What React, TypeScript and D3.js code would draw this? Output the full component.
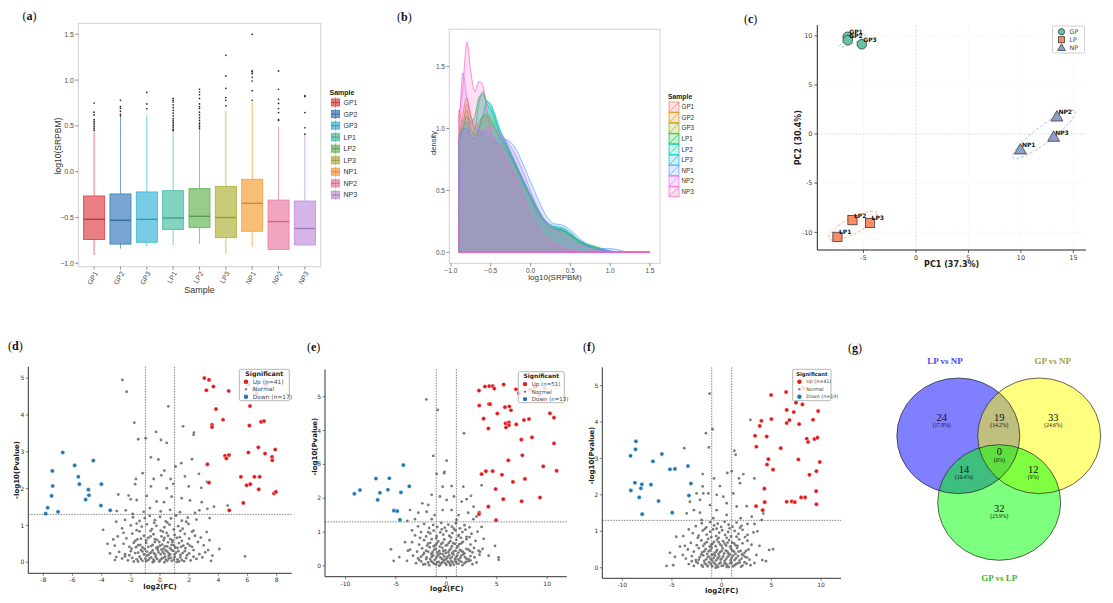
import React from 'react';
import * as d3 from 'd3';

const W = 1113;
const H = 603;
const SANS = '"Liberation Sans", Arial, sans-serif';
const DEJAVU = '"DejaVu Sans", sans-serif';
const SERIF = '"Liberation Serif", "Times New Roman", serif';

type Pt = [number, number];

// ---------- (a) boxplot of log10(SRPBM) ----------
const samples = ['GP1', 'GP2', 'GP3', 'LP1', 'LP2', 'LP3', 'NP1', 'NP2', 'NP3'];
const boxColors = ['#e0474f', '#3f7fbd', '#3fb8d8', '#4fc0a8', '#6ab85a', '#b3b540', '#f5a33f', '#ec7fa6', '#c394dd'];
const boxLow = [-0.91, -0.84, -0.82, -0.8, -0.785, -0.9, -0.82, -0.85, -0.8];
const boxQ1 = [-0.74, -0.79, -0.77, -0.63, -0.61, -0.72, -0.65, -0.85, -0.8];
const boxMed = [-0.52, -0.53, -0.52, -0.505, -0.487, -0.5, -0.345, -0.545, -0.62];
const boxQ3 = [-0.265, -0.243, -0.221, -0.207, -0.185, -0.16, -0.083, -0.31, -0.32];
const boxHigh = [0.43, 0.6, 0.61, 0.44, 0.455, 0.663, 0.765, 0.49, 0.4];
const boxOutliers = [
  [0.45, 0.47, 0.49, 0.51, 0.53, 0.55, 0.57, 0.62, 0.65, 0.75],
  [0.61, 0.63, 0.66, 0.69, 0.71, 0.78],
  [0.69, 0.74, 0.867],
  [0.45, 0.46, 0.48, 0.5, 0.52, 0.54, 0.56, 0.58, 0.61, 0.64, 0.67, 0.7, 0.73, 0.76, 0.78, 0.8],
  [0.47, 0.49, 0.51, 0.53, 0.56, 0.59, 0.62, 0.65, 0.69, 0.71, 0.74, 0.8, 0.84, 0.87, 0.9],
  [0.72, 0.78, 0.81, 0.91, 1.045, 1.27],
  [0.78, 0.885, 0.99, 1.03, 1.07, 1.09, 1.1, 1.5],
  [0.56, 0.57, 0.645, 0.69, 0.745, 0.79, 0.9, 1.1],
  [0.41, 0.48, 0.645, 0.82, 0.83],
];
const boxYTicks = [-1, -0.5, 0, 0.5, 1, 1.5];

// ---------- (b) density curves ----------
const densityColors = ['#F8766D', '#D39200', '#93AA00', '#00BA38', '#00C19F', '#00B9E3', '#619CFF', '#DB72FB', '#FF61C3'];
const densityX = [-0.9, -0.85, -0.8, -0.75, -0.7, -0.65, -0.6, -0.55, -0.5, -0.45, -0.4, -0.3, -0.2, -0.1, 0, 0.1, 0.2, 0.3, 0.4, 0.5, 0.6, 0.7, 0.8, 0.9, 1.0, 1.1, 1.2, 1.3, 1.5];
const densityGP1 = [1.15, 1.05, 1.2, 1.1, 1.0, 0.98, 0.95, 0.93, 0.92, 0.9, 0.88, 0.82, 0.7, 0.56, 0.43, 0.31, 0.23, 0.18, 0.17, 0.13, 0.08, 0.05, 0.03, 0.015, 0.005, 0, 0, 0, 0];
const densityGP2 = [0.9, 1.12, 1.25, 1.1, 1.0, 1.05, 1.1, 1.1, 1.05, 1.0, 0.94, 0.84, 0.71, 0.57, 0.44, 0.32, 0.23, 0.19, 0.18, 0.14, 0.09, 0.05, 0.03, 0.015, 0.005, 0, 0, 0, 0];
const densityGP3 = [0.95, 1.05, 1.15, 1.0, 0.95, 1.0, 1.1, 1.12, 1.08, 1.02, 0.95, 0.85, 0.72, 0.58, 0.45, 0.32, 0.23, 0.19, 0.18, 0.14, 0.09, 0.06, 0.04, 0.02, 0.005, 0, 0, 0, 0];
const densityLP1 = [0.9, 1.0, 1.1, 1.05, 1.1, 1.25, 1.28, 1.2, 1.15, 1.07, 0.98, 0.86, 0.72, 0.58, 0.45, 0.33, 0.24, 0.2, 0.18, 0.14, 0.1, 0.07, 0.05, 0.03, 0.01, 0, 0, 0, 0];
const densityLP2 = [0.9, 1.0, 1.05, 0.95, 1.0, 1.2, 1.3, 1.22, 1.18, 1.1, 1.0, 0.87, 0.73, 0.59, 0.46, 0.33, 0.24, 0.2, 0.19, 0.15, 0.1, 0.06, 0.04, 0.02, 0.01, 0, 0, 0, 0];
const densityLP3 = [0.9, 1.0, 1.0, 0.93, 0.92, 1.0, 1.1, 1.22, 1.2, 1.12, 1.02, 0.88, 0.74, 0.6, 0.47, 0.34, 0.25, 0.21, 0.2, 0.16, 0.1, 0.06, 0.04, 0.02, 0.01, 0, 0, 0, 0];
const densityNP1 = [0.2, 0.95, 0.97, 0.93, 0.92, 0.95, 0.97, 0.97, 0.95, 0.93, 0.92, 0.91, 0.85, 0.72, 0.57, 0.42, 0.29, 0.23, 0.22, 0.18, 0.12, 0.07, 0.04, 0.03, 0.03, 0.02, 0.005, 0, 0];
const densityNP2 = [0.9, 1.45, 1.25, 1.1, 1.05, 1.0, 0.98, 1.0, 1.02, 1.0, 0.97, 0.9, 0.8, 0.66, 0.5, 0.35, 0.24, 0.18, 0.15, 0.1, 0.06, 0.04, 0.02, 0.01, 0.01, 0.005, 0, 0, 0];
const densityNP3 = [1.1, 1.35, 1.7, 1.45, 1.3, 1.38, 1.35, 1.15, 0.98, 0.9, 0.86, 0.74, 0.62, 0.46, 0.3, 0.19, 0.11, 0.07, 0.04, 0.02, 0.01, 0, 0, 0, 0, 0, 0, 0, 0];
const densitySeries = [densityGP1, densityGP2, densityGP3, densityLP1, densityLP2, densityLP3, densityNP1, densityNP2, densityNP3];
const densityXTicks = [-1, -0.5, 0, 0.5, 1, 1.5];
const densityYTicks = [0, 0.5, 1, 1.5];

// ---------- (c) PCA ----------
const pcaGroups = ['GP', 'LP', 'NP'];
const pcaColors = ['#66c2a5', '#fc8d62', '#8da0cb'];
const pcaNames = ['GP1', 'GP2', 'GP3', 'LP1', 'LP2', 'LP3', 'NP1', 'NP2', 'NP3'];
const pcaPC1 = [-6.5, -6.5, -5.16, -7.48, -6.05, -4.37, 9.95, 13.43, 13.12];
const pcaPC2 = [9.9, 9.55, 9.14, -10.46, -8.76, -9.04, -1.59, 1.76, -0.3];
// group ellipses: centre (pc units), semi axes (pc1 units), tilt in degrees
const ellipseCx = [-6.05, -6.0, 12.17];
const ellipseCy = [9.55, -9.34, -0.05];
const ellipseRx = [1.36, 2.58, 3.7];
const ellipseRy = [0.3, 0.75, 0.8];
const ellipseAngle = [26, 28, 37];

// ---------- (d)(e)(f) volcano plots ----------
const upCounts = [41, 51, 41];
const downCounts = [17, 13, 19];

const upD: Pt[] = [[3.04, 5.0], [3.36, 4.95], [3.18, 4.67], [3.66, 4.77], [4.71, 4.65], [3.84, 4.16], [3.57, 3.73], [3.57, 3.67], [4.32, 3.87], [6.17, 4.24], [6.13, 3.71], [6.93, 3.81], [7.13, 3.83], [6.06, 2.98], [6.74, 3.12], [7.2, 2.95], [7.9, 3.06], [7.68, 2.86], [7.7, 2.77], [4.46, 2.89], [4.55, 2.82], [4.73, 2.91], [3.25, 2.66], [5.55, 2.32], [6.47, 2.32], [6.83, 2.32], [3.36, 2.16], [5.94, 2.09], [6.19, 2.12], [6.77, 1.98], [7.82, 1.87], [7.95, 1.91], [5.71, 1.61], [4.75, 1.41], [6.06, 4.82], [6.4, 4.68], [7.3, 4.82], [6.63, 4.59]];
const downD: Pt[] = [[-6.67, 2.98], [-5.85, 2.63], [-4.57, 2.76], [-7.38, 2.48], [-5.6, 2.32], [-7.36, 2.07], [-5.53, 2.12], [-4.02, 2.12], [-7.43, 1.8], [-4.91, 1.97], [-4.87, 1.82], [-5.1, 1.7], [-4.05, 1.54], [-7.7, 1.48], [-3.41, 1.41], [-6.99, 1.37], [-7.84, 1.32]];
const normalD: Pt[] = [
  [-2.58, 4.95], [-2.29, 4.63], [0.57, 4.23], [-1.76, 3.79], [1.58, 3.69], [2.33, 3.52], [2.3, 3.46], [-0.27, 3.54], [0.07, 3.32], [-1.49, 3.34], [-0.98, 3.37], [0.46, 3.24], [-0.62, 2.85], [-0.11, 2.79], [2.19, 2.8], [0.3, 2.49], [1.07, 2.6], [1.46, 2.69], [2.67, 2.4], [-1.19, 2.42], [-1.65, 2.26], [-1.71, 2.12], [-0.43, 2.26], [0.09, 2.36], [0.73, 2.26], [1.71, 2.33], [1.97, 2.06], [2.83, 2.02], [3.22, 2.18], [-0.62, 2.06], [0.46, 2.01], [0.91, 2.13], [-2.86, 1.84], [-2.15, 1.81], [-2.01, 1.71], [-1.6, 1.69], [-0.91, 1.8], [-0.23, 1.65], [0.27, 1.63], [0.8, 1.78], [1.49, 1.74], [2.06, 1.68], [2.86, 1.63], [3.7, 1.51], [4.64, 1.54], [3.25, 1.45], [-2.97, 1.39], [-2.35, 1.41], [-1.87, 1.31], [-1.12, 1.37], [-0.69, 1.47], [0.05, 1.38], [0.69, 1.42], [1.37, 1.36], [2.4, 1.34], [2.7, 1.41],
  [-2.6, 0.1], [-2.2, 0.05], [-1.9, 0.12], [-1.6, 0.08], [-1.4, 0.15], [-1.2, 0.04], [-1.0, 0.1], [-0.8, 0.06], [-0.6, 0.13], [-0.4, 0.03], [-0.2, 0.09], [0.0, 0.05], [0.2, 0.12], [0.4, 0.07], [0.6, 0.1], [0.8, 0.04], [1.0, 0.14], [1.2, 0.08], [1.5, 0.06], [1.8, 0.11], [2.1, 0.05], [2.5, 0.09], [2.9, 0.13], [-3.0, 0.14],
  [-2.8, 0.28], [-2.4, 0.22], [-2.0, 0.3], [-1.7, 0.25], [-1.3, 0.33], [-1.1, 0.21], [-0.9, 0.29], [-0.7, 0.24], [-0.5, 0.32], [-0.3, 0.2], [-0.1, 0.27], [0.1, 0.34], [0.3, 0.23], [0.5, 0.29], [0.7, 0.21], [0.9, 0.31], [1.1, 0.26], [1.4, 0.2], [1.7, 0.3], [2.0, 0.24], [2.3, 0.33], [2.7, 0.22], [3.1, 0.27],
  [-3.1, 0.45], [-2.5, 0.5], [-2.1, 0.42], [-1.8, 0.53], [-1.5, 0.46], [-1.2, 0.4], [-0.95, 0.52], [-0.6, 0.44], [-0.35, 0.55], [-0.15, 0.41], [0.15, 0.48], [0.35, 0.43], [0.55, 0.54], [0.8, 0.47], [1.05, 0.4], [1.3, 0.52], [1.6, 0.45], [1.9, 0.5], [2.2, 0.42], [2.6, 0.55], [3.0, 0.46],
  [-2.9, 0.7], [-2.3, 0.65], [-1.9, 0.78], [-1.55, 0.62], [-1.1, 0.72], [-0.8, 0.66], [-0.45, 0.76], [-0.2, 0.61], [0.1, 0.7], [0.45, 0.8], [0.7, 0.63], [1.0, 0.74], [1.35, 0.68], [1.7, 0.77], [2.0, 0.64], [2.4, 0.72], [2.8, 0.67],
  [-3.9, 0.88], [-2.6, 0.92], [-2.0, 1.0], [-1.6, 0.87], [-1.25, 0.97], [-0.9, 1.03], [-0.55, 0.9], [-0.25, 0.99], [0.05, 0.86], [0.3, 0.95], [0.65, 1.02], [0.95, 0.89], [1.25, 0.98], [1.55, 0.91], [1.95, 1.04], [2.3, 0.86], [3.2, 0.82],
  [-2.4, 1.15], [-1.85, 1.22], [-1.4, 1.12], [-1.05, 1.2], [-0.7, 1.26], [-0.35, 1.14], [0.0, 1.23], [0.4, 1.11], [0.75, 1.19], [1.1, 1.27], [1.5, 1.13], [1.9, 1.21], [2.5, 1.16],
  [-3.2, 0.62], [-3.43, 0.24], [-3.09, 0.06], [5.83, 0.16], [4.07, 0.36], [3.5, 0.04], [3.3, 0.33], [3.6, 0.18],
  [-0.5, 0.0], [0.3, 0.0], [-1.5, 0.02], [1.3, 0.02], [-0.9, 0.18], [0.6, 0.17], [-0.2, 0.38], [0.25, 0.6], [-0.65, 0.85], [0.85, 0.55],
  [-1.8, 0.02], [-1.3, 0.09], [-0.95, 0.03], [-0.7, 0.11], [-0.45, 0.07], [-0.3, 0.14], [-0.05, 0.02], [0.1, 0.09], [0.35, 0.15], [0.5, 0.04], [0.75, 0.12], [0.95, 0.07], [1.15, 0.01], [1.4, 0.13], [1.65, 0.03], [-2.4, 0.16], [2.3, 0.15],
  [-2.1, 0.19], [-1.5, 0.26], [-1.2, 0.29], [-0.8, 0.2], [-0.6, 0.27], [-0.4, 0.24], [-0.15, 0.33], [0.05, 0.22], [0.2, 0.28], [0.4, 0.32], [0.6, 0.24], [0.8, 0.33], [1.0, 0.21], [1.25, 0.3], [1.55, 0.25], [1.85, 0.19],
  [-1.95, 0.37], [-1.65, 0.41], [-1.35, 0.47], [-1.05, 0.36], [-0.8, 0.42], [-0.5, 0.47], [-0.25, 0.39], [0.0, 0.45], [0.25, 0.37], [0.5, 0.43], [0.7, 0.38], [0.95, 0.46], [1.2, 0.39], [1.45, 0.42], [1.75, 0.38], [2.05, 0.45],
  [-1.7, 0.58], [-1.3, 0.64], [-0.95, 0.59], [-0.65, 0.7], [-0.35, 0.63], [-0.05, 0.55], [0.3, 0.66], [0.55, 0.72], [0.85, 0.6], [1.15, 0.66], [1.5, 0.58], [-2.5, 0.8], [2.2, 0.83], [-1.4, 0.84], [0.2, 0.83], [1.4, 0.85], [-0.4, 1.07], [0.5, 1.08], [1.8, 1.1], [-1.6, 1.05], [-3.0, 1.1], [3.4, 1.2], [-3.6, 0.5], [3.4, 0.6],
];

const upE: Pt[] = [[3.24, 5.18], [3.83, 5.3], [4.26, 5.31], [4.6, 5.31], [4.76, 5.24], [5.69, 5.36], [6.91, 5.22], [7.21, 5.1], [8.79, 5.28], [3.27, 4.74], [4.23, 4.78], [4.33, 4.78], [5.82, 4.69], [6.25, 4.71], [6.41, 4.6], [5.06, 4.5], [3.7, 4.35], [5.88, 4.21], [6.21, 4.24], [6.21, 4.16], [5.92, 4.09], [4.17, 4.06], [6.94, 4.18], [7.7, 4.31], [8.2, 4.34], [10.28, 4.51], [10.68, 4.38], [7.44, 3.73], [8.5, 3.8], [10.68, 3.62], [7.54, 3.27], [6.15, 3.12], [9.62, 2.94], [3.5, 2.71], [3.93, 2.8], [4.6, 2.8], [5.52, 2.69], [10.94, 2.81], [6.61, 2.48], [7.8, 2.57], [4.89, 2.27], [9.29, 2.02], [5.65, 1.97], [7.47, 1.91], [4.17, 1.75], [3.27, 1.57], [3.24, 1.53], [4.93, 1.35], [8.3, 5.2], [9.29, 5.05], [9.79, 5.25]];
const downE: Pt[] = [[-4.26, 2.98], [-6.98, 2.58], [-5.65, 2.59], [-8.56, 2.24], [-9.12, 2.13], [-6.58, 2.16], [-5.79, 2.25], [-4.5, 2.17], [-3.67, 2.35], [-6.81, 1.95], [-5.19, 1.63], [-4.86, 1.62], [-4.6, 1.36]];
const normalE: Pt[] = [
  [-1.98, 4.92], [-0.86, 4.61], [1.75, 3.92], [-1.29, 3.25], [0.03, 3.11], [-0.96, 2.72], [-0.23, 2.74], [-0.17, 2.78], [3.5, 2.38], [0.53, 2.36], [-0.36, 2.34], [1.69, 2.34], [2.45, 2.07], [-1.45, 2.1], [-0.63, 2.05], [1.52, 1.9], [2.02, 1.97], [-2.38, 1.85], [-1.79, 1.8], [0.03, 1.95], [0.76, 2.05], [2.71, 1.75], [-3.6, 1.65], [-2.78, 1.57], [-1.95, 1.6], [-1.16, 1.5], [-0.36, 1.65], [0.53, 1.65], [1.22, 1.5], [2.18, 1.57], [3.0, 1.46], [-3.87, 1.33], [-3.11, 1.38], [-1.45, 1.38], [1.02, 1.36], [2.68, 1.38],
  [-3.0, 0.08], [-2.5, 0.13], [-2.1, 0.05], [-1.8, 0.1], [-1.5, 0.14], [-1.2, 0.06], [-0.9, 0.11], [-0.6, 0.04], [-0.35, 0.12], [-0.1, 0.07], [0.15, 0.13], [0.4, 0.05], [0.65, 0.1], [0.9, 0.15], [1.2, 0.06], [1.5, 0.12], [1.8, 0.08], [2.2, 0.14], [2.6, 0.05], [3.0, 0.1],
  [-3.3, 0.3], [-2.8, 0.22], [-2.3, 0.33], [-1.95, 0.25], [-1.6, 0.2], [-1.3, 0.31], [-1.0, 0.24], [-0.75, 0.34], [-0.45, 0.21], [-0.2, 0.28], [0.05, 0.23], [0.3, 0.32], [0.55, 0.26], [0.85, 0.2], [1.1, 0.3], [1.4, 0.24], [1.7, 0.34], [2.0, 0.21], [2.4, 0.29], [2.8, 0.25], [3.3, 0.33],
  [-3.6, 0.48], [-2.9, 0.42], [-2.4, 0.52], [-2.0, 0.45], [-1.65, 0.55], [-1.35, 0.41], [-1.05, 0.5], [-0.7, 0.44], [-0.4, 0.53], [-0.1, 0.46], [0.2, 0.4], [0.45, 0.51], [0.75, 0.43], [1.05, 0.54], [1.35, 0.47], [1.65, 0.41], [2.0, 0.5], [2.35, 0.44], [2.75, 0.53], [3.2, 0.45],
  [-3.4, 0.7], [-2.7, 0.63], [-2.2, 0.76], [-1.8, 0.66], [-1.45, 0.79], [-1.1, 0.61], [-0.8, 0.72], [-0.5, 0.65], [-0.2, 0.78], [0.1, 0.62], [0.4, 0.73], [0.7, 0.67], [1.0, 0.77], [1.3, 0.64], [1.65, 0.71], [2.0, 0.79], [2.4, 0.63], [2.9, 0.74],
  [-3.1, 0.9], [-2.5, 1.0], [-2.0, 0.87], [-1.6, 0.96], [-1.25, 1.04], [-0.95, 0.88], [-0.6, 0.99], [-0.3, 0.92], [0.0, 1.03], [0.3, 0.89], [0.6, 0.97], [0.9, 1.05], [1.25, 0.91], [1.6, 1.0], [2.0, 0.86], [2.5, 0.95], [3.1, 1.01],
  [-2.8, 1.17], [-2.2, 1.24], [-1.7, 1.12], [-1.3, 1.21], [-0.9, 1.15], [-0.5, 1.27], [-0.15, 1.13], [0.2, 1.22], [0.55, 1.16], [0.95, 1.26], [1.35, 1.11], [1.8, 1.2], [2.3, 1.14],
  [-5.49, 0.49], [-5.22, 0.15], [-4.66, 0.26], [4.83, 0.59], [5.19, 0.25], [5.19, 0.18], [3.34, 0.42], [-4.1, 0.7], [-3.9, 0.15], [3.7, 0.8], [4.2, 0.3],
  [-0.7, 0.0], [0.4, 0.01], [-0.25, 0.18], [0.6, 0.38], [-1.4, 0.33], [1.2, 0.88],
  [-1.7, 0.02], [-1.35, 0.1], [-1.0, 0.04], [-0.75, 0.12], [-0.5, 0.08], [-0.25, 0.15], [0.0, 0.03], [0.25, 0.1], [0.5, 0.14], [0.75, 0.03], [1.0, 0.09], [1.3, 0.15], [1.6, 0.02], [1.95, 0.12], [-2.3, 0.04], [2.4, 0.16], [-2.7, 0.18],
  [-2.0, 0.2], [-1.45, 0.27], [-1.15, 0.18], [-0.85, 0.3], [-0.6, 0.25], [-0.35, 0.35], [-0.05, 0.19], [0.15, 0.27], [0.4, 0.22], [0.7, 0.33], [0.95, 0.26], [1.2, 0.19], [1.5, 0.31], [1.85, 0.26], [2.2, 0.2], [-2.5, 0.27],
  [-2.2, 0.38], [-1.8, 0.42], [-1.5, 0.36], [-1.2, 0.48], [-0.9, 0.4], [-0.6, 0.36], [-0.3, 0.44], [-0.05, 0.38], [0.3, 0.46], [0.6, 0.37], [0.9, 0.45], [1.2, 0.39], [1.5, 0.44], [1.8, 0.37], [2.2, 0.48], [2.6, 0.4],
  [-1.9, 0.6], [-1.6, 0.68], [-1.25, 0.58], [-0.95, 0.66], [-0.65, 0.57], [-0.35, 0.69], [-0.05, 0.6], [0.25, 0.68], [0.55, 0.58], [0.85, 0.65], [1.15, 0.58], [1.5, 0.67], [-2.6, 0.83], [2.3, 0.85], [-1.0, 0.82], [0.45, 0.84], [1.45, 0.83], [-0.45, 1.08], [0.75, 1.1], [1.9, 1.07], [-1.8, 1.0], [-3.4, 1.05], [3.5, 1.15], [-3.8, 0.45], [3.6, 0.5],
];

const upF: Pt[] = [[4.97, 4.74], [6.48, 4.82], [6.54, 4.33], [7.48, 4.53], [8.12, 4.48], [7.25, 4.27], [6.81, 4.05], [6.54, 3.97], [7.79, 3.94], [5.0, 4.08], [3.99, 4.03], [3.83, 3.89], [9.19, 4.06], [9.7, 4.3], [3.36, 3.62], [4.53, 3.6], [3.49, 3.32], [5.94, 3.28], [8.56, 3.54], [8.69, 3.45], [9.33, 3.53], [9.63, 3.57], [4.7, 2.98], [4.56, 2.83], [5.17, 2.69], [7.72, 2.97], [9.87, 2.9], [9.53, 2.65], [8.83, 2.55], [4.3, 2.17], [9.5, 2.1], [4.33, 1.8], [6.54, 1.81], [7.05, 1.82], [7.35, 1.8], [7.99, 1.93], [8.39, 1.93], [9.53, 1.74], [3.46, 1.69], [4.13, 1.58], [8.22, 4.93]];
const downF: Pt[] = [[-8.62, 3.47], [-8.66, 3.25], [-9.16, 3.07], [-6.01, 3.12], [-6.91, 2.92], [-5.2, 2.7], [-4.7, 2.71], [-3.39, 2.79], [-8.72, 2.33], [-8.02, 2.29], [-7.11, 2.28], [-8.12, 2.18], [-9.13, 2.12], [-3.09, 2.31], [-3.29, 1.98], [-8.29, 1.93], [-6.34, 1.83], [-7.99, 1.47], [-4.97, 1.51]];
const normalF: Pt[] = [
  [-1.21, 4.78], [-0.91, 3.8], [-1.58, 3.69], [-3.76, 3.28], [-1.28, 3.3], [1.28, 3.21], [1.41, 3.1], [2.89, 4.06], [0.57, 2.6], [1.01, 2.65], [-1.91, 2.57], [2.18, 2.57], [3.29, 2.45], [1.74, 2.45], [1.85, 2.32], [-0.77, 2.45], [-0.17, 2.24], [-1.91, 2.23], [-1.85, 2.04], [-1.34, 2.04], [-0.5, 2.0], [0.17, 1.95], [1.17, 2.04], [-2.52, 2.04], [-3.19, 1.81], [-2.79, 1.58], [-2.18, 1.86], [-1.17, 1.72], [0.5, 1.77], [1.51, 1.68], [2.52, 1.69], [4.19, 1.49], [4.03, 1.31], [3.02, 1.4], [-3.52, 1.49], [-2.18, 1.51], [-0.5, 1.58], [0.5, 1.45], [1.91, 1.36], [-2.01, 1.31], [-0.84, 1.36],
  [-3.3, 0.1], [-2.8, 0.05], [-2.4, 0.13], [-2.0, 0.07], [-1.7, 0.12], [-1.4, 0.04], [-1.1, 0.1], [-0.8, 0.14], [-0.5, 0.06], [-0.25, 0.11], [0.0, 0.05], [0.3, 0.13], [0.55, 0.08], [0.85, 0.12], [1.15, 0.04], [1.45, 0.1], [1.8, 0.14], [2.1, 0.06], [2.5, 0.11], [2.9, 0.07], [3.3, 0.13],
  [-3.6, 0.25], [-3.0, 0.32], [-2.6, 0.21], [-2.2, 0.29], [-1.85, 0.34], [-1.55, 0.23], [-1.25, 0.3], [-0.95, 0.2], [-0.65, 0.33], [-0.4, 0.26], [-0.1, 0.22], [0.15, 0.31], [0.45, 0.24], [0.75, 0.34], [1.0, 0.27], [1.3, 0.21], [1.65, 0.32], [2.0, 0.25], [2.35, 0.3], [2.8, 0.22],
  [-3.4, 0.5], [-2.8, 0.44], [-2.3, 0.54], [-1.95, 0.42], [-1.6, 0.51], [-1.3, 0.45], [-1.0, 0.55], [-0.7, 0.41], [-0.45, 0.49], [-0.15, 0.43], [0.1, 0.53], [0.4, 0.47], [0.65, 0.4], [0.95, 0.52], [1.25, 0.44], [1.55, 0.54], [1.9, 0.46], [2.3, 0.41], [2.7, 0.5],
  [-3.1, 0.68], [-2.5, 0.62], [-2.05, 0.75], [-1.7, 0.66], [-1.35, 0.79], [-1.05, 0.63], [-0.75, 0.71], [-0.45, 0.77], [-0.15, 0.64], [0.15, 0.73], [0.45, 0.61], [0.75, 0.76], [1.05, 0.69], [1.4, 0.62], [1.75, 0.78], [2.1, 0.67], [2.6, 0.74], [3.0, 0.63],
  [-2.9, 0.95], [-2.3, 0.88], [-1.9, 1.02], [-1.5, 0.91], [-1.15, 0.99], [-0.85, 1.05], [-0.55, 0.87], [-0.25, 0.96], [0.05, 1.03], [0.35, 0.9], [0.65, 0.98], [0.95, 0.86], [1.3, 1.01], [1.7, 0.93], [2.1, 1.04], [2.6, 0.9], [3.2, 0.97],
  [-2.6, 1.14], [-2.0, 1.22], [-1.55, 1.11], [-1.15, 1.25], [-0.75, 1.16], [-0.4, 1.21], [-0.05, 1.12], [0.3, 1.26], [0.7, 1.18], [1.1, 1.13], [1.5, 1.24], [2.0, 1.15], [2.6, 1.2],
  [-3.86, 0.87], [-4.56, 0.85], [-4.19, 0.58], [-5.2, 0.41], [-4.7, 0.3], [-4.87, 0.07], [-5.54, 0.05], [4.77, 0.49], [5.17, 0.51], [4.09, 0.21], [4.46, 0.18], [3.8, 0.6], [3.6, 1.0], [-3.9, 0.35],
  [-0.6, 0.0], [0.5, 0.02], [-1.0, 0.36], [0.85, 0.58], [-0.3, 0.82],
  [-1.9, 0.03], [-1.55, 0.09], [-1.25, 0.15], [-0.95, 0.04], [-0.65, 0.1], [-0.35, 0.02], [-0.1, 0.14], [0.15, 0.06], [0.4, 0.11], [0.7, 0.02], [1.0, 0.14], [1.3, 0.07], [1.6, 0.12], [1.95, 0.03], [-2.55, 0.16], [2.3, 0.15], [-3.0, 0.18],
  [-2.3, 0.22], [-1.75, 0.19], [-1.4, 0.3], [-1.1, 0.24], [-0.8, 0.27], [-0.55, 0.2], [-0.25, 0.31], [0.0, 0.25], [0.3, 0.19], [0.6, 0.3], [0.9, 0.2], [1.15, 0.33], [1.45, 0.26], [1.8, 0.2], [2.15, 0.34], [2.55, 0.28],
  [-2.05, 0.36], [-1.75, 0.45], [-1.45, 0.38], [-1.15, 0.48], [-0.85, 0.36], [-0.55, 0.44], [-0.3, 0.38], [0.0, 0.46], [0.25, 0.39], [0.55, 0.45], [0.8, 0.37], [1.1, 0.47], [1.4, 0.38], [1.7, 0.44], [2.05, 0.37], [2.45, 0.46],
  [-1.85, 0.6], [-1.5, 0.7], [-1.2, 0.58], [-0.9, 0.66], [-0.6, 0.59], [-0.3, 0.7], [0.0, 0.6], [0.3, 0.66], [0.6, 0.69], [0.9, 0.58], [1.25, 0.67], [1.6, 0.6], [-2.4, 0.82], [2.35, 0.84], [-1.05, 0.84], [0.5, 0.82], [1.5, 0.85], [-0.5, 1.07], [0.8, 1.08], [1.85, 1.1], [-1.7, 1.06], [-3.3, 1.05], [3.3, 1.2], [-3.7, 0.6], [3.5, 0.35],
];

// ---------- (g) Venn ----------
const vennSets = ['LP vs NP', 'GP vs NP', 'GP vs LP'];
const vennFill = ['#0000ff', '#ffff00', '#00ff00'];
const vennTitleColor = ['#4a4af2', '#a6a23e', '#3cb43c'];
const vennRegions = ['LP only', 'LP&GPNP', 'GPNP only', 'all', 'LP&GPLP', 'GPNP&GPLP', 'GPLP only'];
const vennCounts = [24, 19, 33, 0, 14, 12, 32];

// ---------------------------------------------------------------

function PanelLabel({ x, y, letter }: { x: number; y: number; letter: string }) {
  return (
    <text x={x} y={y} fontFamily={SERIF} fontSize={12} fill="#111">
      (<tspan fontWeight="bold">{letter}</tspan>)
    </text>
  );
}

function PanelA() {
  const x = d3.scalePoint<string>().domain(samples).range([78.3, 320.7]).padding(0.6);
  const y = d3.scaleLinear().domain([-1.037, 1.62]).range([266.7, 23.3]);
  const bw = 21;
  const fmt = d3.format('.1f');
  return (
    <g fontFamily={SANS}>
      <rect x={78.3} y={23.3} width={242.4} height={243.4} fill="#fff" stroke="#d0d0d0" strokeWidth={1} />
      {samples.map((s, i) => {
        const cx = x(s)!;
        const c = boxColors[i];
        const dark = d3.color(c)!.darker(0.5).formatHex();
        return (
          <g key={s}>
            <line x1={cx} x2={cx} y1={y(boxLow[i])} y2={y(boxQ1[i])} stroke={c} strokeOpacity={0.75} strokeWidth={1} />
            <line x1={cx} x2={cx} y1={y(boxQ3[i])} y2={y(boxHigh[i])} stroke={c} strokeOpacity={0.75} strokeWidth={1} />
            <rect x={cx - bw / 2} y={y(boxQ3[i])} width={bw} height={y(boxQ1[i]) - y(boxQ3[i])} fill={c} fillOpacity={0.7} stroke={c} strokeWidth={0.9} />
            <line x1={cx - bw / 2} x2={cx + bw / 2} y1={y(boxMed[i])} y2={y(boxMed[i])} stroke={dark} strokeWidth={1.4} />
            {boxOutliers[i].map((v, j) => (
              <circle key={j} cx={cx} cy={y(v)} r={0.85} fill="#222" />
            ))}
          </g>
        );
      })}
      {boxYTicks.map((t) => (
        <g key={t}>
          <line x1={75.3} x2={78.3} y1={y(t)} y2={y(t)} stroke="#444" strokeWidth={0.6} />
          <text x={74} y={y(t)} dy="0.35em" textAnchor="end" fontSize={7} fill="#4d4d4d">{fmt(t)}</text>
        </g>
      ))}
      {samples.map((s) => (
        <g key={s}>
          <line x1={x(s)} x2={x(s)} y1={266.7} y2={269.7} stroke="#444" strokeWidth={0.6} />
          <text transform={`translate(${x(s)! + 2},${272}) rotate(-60)`} textAnchor="end" dy="0.35em" fontSize={7} fill="#4d4d4d">{s}</text>
        </g>
      ))}
      <text x={199.5} y={293} textAnchor="middle" fontSize={9} fill="#333">Sample</text>
      <text transform="translate(61,146) rotate(-90)" textAnchor="middle" fontSize={8.5} fill="#333">log10(SRPBM)</text>
      <text x={329.5} y={95} fontSize={7} fontWeight="bold" fill="#222">Sample</text>
      {samples.map((s, i) => {
        const cy = 102.5 + i * 11.55;
        const c = boxColors[i];
        return (
          <g key={s}>
            <rect x={330} y={cy - 5.5} width={11} height={11} fill="#f2f2f2" stroke="#fff" />
            <line x1={335.5} x2={335.5} y1={cy - 5} y2={cy + 5} stroke={c} strokeWidth={0.8} />
            <rect x={331.5} y={cy - 3.5} width={8} height={7} fill={c} fillOpacity={0.7} stroke={c} strokeWidth={0.8} />
            <line x1={331.5} x2={339.5} y1={cy} y2={cy} stroke={d3.color(c)!.darker(0.5).formatHex()} strokeWidth={1} />
            <text x={343.5} y={cy} dy="0.35em" fontSize={7} fill="#333">{s}</text>
          </g>
        );
      })}
    </g>
  );
}

function PanelB() {
  const x = d3.scaleLinear().domain([-1.021, 1.626]).range([449.3, 660]);
  const y = d3.scaleLinear().domain([-0.089, 1.802]).range([263.3, 29.3]);
  const fmt = d3.format('.1f');
  const area = d3.area<number>()
    .x((_, i) => x(densityX[i]))
    .y0(y(0))
    .y1((d) => y(d))
    .curve(d3.curveMonotoneX);
  return (
    <g fontFamily={SANS}>
      <rect x={449.3} y={29.3} width={210.7} height={234} fill="#fff" stroke="#d0d0d0" strokeWidth={1} />
      {densitySeries.map((s, i) => (
        <path key={i} d={area(s) ?? ''} fill={densityColors[i]} fillOpacity={0.2} stroke={densityColors[i]} strokeWidth={0.7} />
      ))}
      <line x1={x(densityX[0])} x2={x(1.5)} y1={y(0)} y2={y(0)} stroke={densityColors[8]} strokeWidth={0.8} />
      {densityYTicks.map((t) => (
        <g key={t}>
          <line x1={446.3} x2={449.3} y1={y(t)} y2={y(t)} stroke="#444" strokeWidth={0.6} />
          <text x={445} y={y(t)} dy="0.35em" textAnchor="end" fontSize={6.5} fill="#4d4d4d">{fmt(t)}</text>
        </g>
      ))}
      {densityXTicks.map((t) => (
        <g key={t}>
          <line x1={x(t)} x2={x(t)} y1={263.3} y2={266.3} stroke="#444" strokeWidth={0.6} />
          <text x={x(t)} y={273} textAnchor="middle" fontSize={6.5} fill="#4d4d4d">{fmt(t)}</text>
        </g>
      ))}
      <text x={555} y={280} textAnchor="middle" fontSize={8} fill="#333">log10(SRPBM)</text>
      <text transform="translate(435.5,143) rotate(-90)" textAnchor="middle" fontSize={7.5} fill="#333">density</text>
      <text x={668} y={99} fontSize={6.8} fontWeight="bold" fill="#222">Sample</text>
      {samples.map((s, i) => {
        const top = 102 + i * 10.6;
        const c = densityColors[i];
        return (
          <g key={s}>
            <rect x={669} y={top} width={10} height={10} fill={c} fillOpacity={0.2} stroke={c} strokeWidth={0.7} />
            <line x1={669} x2={679} y1={top + 10} y2={top} stroke={c} strokeWidth={0.7} />
            <text x={681.5} y={top + 5} dy="0.35em" fontSize={6.3} fill="#333">{s}</text>
          </g>
        );
      })}
    </g>
  );
}

function marker(group: number, px: number, py: number, key: string | number, scale = 1) {
  const fill = pcaColors[group];
  const common = { fill, stroke: '#3a3a3a', strokeWidth: 0.8 };
  if (group === 0) return <circle key={key} cx={px} cy={py} r={4.8 * scale} {...common} />;
  if (group === 1) return <rect key={key} x={px - 4.6 * scale} y={py - 4.6 * scale} width={9.2 * scale} height={9.2 * scale} {...common} />;
  const tri = d3.symbol().type(d3.symbolTriangle).size(62 * scale * scale)();
  return <path key={key} d={tri ?? ''} transform={`translate(${px},${py + 0.8 * scale})`} {...common} />;
}

function PanelC() {
  const x = d3.scaleLinear().domain([-9.4, 16.2]).range([817.3, 1086]);
  const y = d3.scaleLinear().domain([-11.8, 11.1]).range([250, 25]);
  const xt = [-5, 0, 5, 10, 15];
  const yt = [-10, -5, 0, 5, 10];
  return (
    <g fontFamily={DEJAVU}>
      {xt.map((t) => (
        <line key={'gx' + t} x1={x(t)} x2={x(t)} y1={25} y2={250} stroke={t === 0 ? '#c8c8c8' : '#ececec'} strokeWidth={0.6} strokeDasharray={t === 0 ? '2,1.5' : '1.5,1.5'} />
      ))}
      {yt.map((t) => (
        <line key={'gy' + t} x1={817.3} x2={1086} y1={y(t)} y2={y(t)} stroke={t === 0 ? '#c8c8c8' : '#ececec'} strokeWidth={0.6} strokeDasharray={t === 0 ? '2,1.5' : '1.5,1.5'} />
      ))}
      {ellipseCx.map((cx, i) => {
        const px = x(cx);
        const py = y(ellipseCy[i]);
        const rx = x(cx + ellipseRx[i]) - px;
        const ry = x(cx + ellipseRy[i]) - px;
        return (
          <ellipse key={i} cx={px} cy={py} rx={rx} ry={ry} transform={`rotate(${-ellipseAngle[i]} ${px} ${py})`} fill="none" stroke={pcaColors[i]} strokeOpacity={0.8} strokeWidth={0.8} strokeDasharray="3,2" />
        );
      })}
      {pcaNames.map((n, i) => marker(Math.floor(i / 3), x(pcaPC1[i]), y(pcaPC2[i]), n))}
      {pcaNames.map((n, i) => (
        <text key={'l' + n} x={x(pcaPC1[i]) + 1.5} y={y(pcaPC2[i]) - 2.5} fontSize={6} fontWeight="bold" fill="#111">{n}</text>
      ))}
      <line x1={817.3} x2={817.3} y1={25} y2={250} stroke="#222" strokeWidth={1} />
      <line x1={817.3} x2={1086} y1={250} y2={250} stroke="#222" strokeWidth={1} />
      {xt.map((t) => (
        <g key={'tx' + t}>
          <line x1={x(t)} x2={x(t)} y1={250} y2={253} stroke="#222" strokeWidth={0.7} />
          <text x={x(t)} y={260} textAnchor="middle" fontSize={6.5} fill="#444">{t}</text>
        </g>
      ))}
      {yt.map((t) => (
        <g key={'ty' + t}>
          <line x1={814.3} x2={817.3} y1={y(t)} y2={y(t)} stroke="#222" strokeWidth={0.7} />
          <text x={812.5} y={y(t)} dy="0.35em" textAnchor="end" fontSize={6.5} fill="#444">{t}</text>
        </g>
      ))}
      <text x={951.7} y={267} textAnchor="middle" fontSize={8} fontWeight="bold" fill="#222">PC1 (37.3%)</text>
      <text transform="translate(800.5,137.7) rotate(-90)" textAnchor="middle" fontSize={8} fontWeight="bold" fill="#222">PC2 (30.4%)</text>
      <rect x={1052.5} y={26} width={32} height={27} rx={1.5} fill="#fff" fillOpacity={0.9} stroke="#bbb" strokeWidth={0.7} />
      {pcaGroups.map((g, i) => {
        const cy = 31.7 + i * 8;
        return (
          <g key={g}>
            {marker(i, 1061.5, cy, 'm' + g, 0.65)}
            <text x={1069.5} y={cy} dy="0.35em" fontSize={6.3} fill="#444">{g}</text>
          </g>
        );
      })}
    </g>
  );
}

interface VolcanoProps {
  xDomain: [number, number];
  xRange: [number, number];
  yDomain: [number, number];
  yRange: [number, number];
  xTicks: number[];
  up: Pt[];
  down: Pt[];
  normal: Pt[];
  upN: number;
  downN: number;
  legend: { x: number; y: number; w: number; h: number; fs: number };
  xLabel: [number, number];
  yLabel: [number, number];
}

function Volcano(p: VolcanoProps) {
  const x = d3.scaleLinear().domain(p.xDomain).range(p.xRange);
  const y = d3.scaleLinear().domain(p.yDomain).range(p.yRange);
  const yTicks = [0, 1, 2, 3, 4, 5];
  const [x0, x1] = p.xRange;
  const [yb, yt] = p.yRange;
  const L = p.legend;
  const items = [
    { label: `Up (n=${p.upN})`, color: '#e31a1c', r: 2.2 },
    { label: 'Normal', color: '#7f7f7f', r: 1.2 },
    { label: `Down (n=${p.downN})`, color: '#1f78b4', r: 2.2 },
  ];
  return (
    <g fontFamily={DEJAVU}>
      {p.normal.map((d, i) => (
        <circle key={'n' + i} cx={x(d[0])} cy={y(d[1])} r={1.4} fill="#7b7b7b" />
      ))}
      {p.up.map((d, i) => (
        <circle key={'u' + i} cx={x(d[0])} cy={y(d[1])} r={2.1} fill="#e31a1c" stroke="#fff" strokeWidth={0.4} />
      ))}
      {p.down.map((d, i) => (
        <circle key={'d' + i} cx={x(d[0])} cy={y(d[1])} r={2.1} fill="#1f78b4" stroke="#fff" strokeWidth={0.4} />
      ))}
      {[-1, 1].map((v) => (
        <line key={v} x1={x(v)} x2={x(v)} y1={yt} y2={yb} stroke="#555" strokeWidth={0.7} strokeDasharray="1.5,1.2" />
      ))}
      <line x1={x0} x2={x1} y1={y(1.3)} y2={y(1.3)} stroke="#555" strokeWidth={0.7} strokeDasharray="1.5,1.2" />
      <line x1={x0} x2={x0} y1={yt} y2={yb} stroke="#333" strokeWidth={1} />
      <line x1={x0} x2={x1} y1={yb} y2={yb} stroke="#333" strokeWidth={1} />
      {p.xTicks.map((t) => (
        <g key={'x' + t}>
          <line x1={x(t)} x2={x(t)} y1={yb} y2={yb + 2.5} stroke="#333" strokeWidth={0.6} />
          <text x={x(t)} y={yb + 9} textAnchor="middle" fontSize={6} fill="#333">{t}</text>
        </g>
      ))}
      {yTicks.map((t) => (
        <g key={'y' + t}>
          <line x1={x0 - 2.5} x2={x0} y1={y(t)} y2={y(t)} stroke="#333" strokeWidth={0.6} />
          <text x={x0 - 4} y={y(t)} dy="0.35em" textAnchor="end" fontSize={6} fill="#333">{t}</text>
        </g>
      ))}
      <text x={p.xLabel[0]} y={p.xLabel[1]} textAnchor="middle" fontSize={7} fontWeight="bold" fill="#222">log2(FC)</text>
      <text transform={`translate(${p.yLabel[0]},${p.yLabel[1]}) rotate(-90)`} textAnchor="middle" fontSize={7} fontWeight="bold" fill="#222">-log10(Pvalue)</text>
      <rect x={L.x} y={L.y} width={L.w} height={L.h} rx={1.5} fill="#fff" fillOpacity={0.82} stroke="#999" strokeWidth={0.7} />
      <text x={L.x + L.w / 2} y={L.y + 6.6} textAnchor="middle" fontSize={L.fs + 0.4} fontWeight="bold" fill="#222">Significant</text>
      {items.map((it, i) => {
        const cy = L.y + 12.4 + i * 7.5;
        return (
          <g key={it.label}>
            <circle cx={L.x + 6.7} cy={cy} r={it.r} fill={it.color} />
            <text x={L.x + 13.5} y={cy} dy="0.35em" fontSize={L.fs} fill="#444">{it.label}</text>
          </g>
        );
      })}
    </g>
  );
}

function PanelG() {
  const rx = 61.5;
  const ry = 57.8;
  const centers: Pt[] = [[958.3, 435.8], [1039.2, 435.8], [999.2, 502.5]];
  const labelPos: Pt[] = [[941.7, 420.7], [999.3, 420.7], [1053.3, 420.7], [999.3, 455], [964, 472.7], [1033.3, 472.7], [999.3, 511.7]];
  const total = d3.sum(vennCounts);
  const pct = (v: number) => `(${+((v / total) * 100).toFixed(1)}%)`;
  const titlePos: Pt[] = [[945, 363.5], [1052.7, 363.5], [999.3, 581]];
  return (
    <g fontFamily={SERIF}>
      {centers.map((c, i) => (
        <ellipse key={i} cx={c[0]} cy={c[1]} rx={rx} ry={ry} fill={vennFill[i]} fillOpacity={0.5} stroke="none" />
      ))}
      {centers.map((c, i) => (
        <ellipse key={'s' + i} cx={c[0]} cy={c[1]} rx={rx} ry={ry} fill="none" stroke="#222" strokeWidth={0.7} />
      ))}
      {vennRegions.map((r, i) => (
        <g key={r}>
          <text x={labelPos[i][0]} y={labelPos[i][1]} textAnchor="middle" fontSize={10.5} fill="#111">{vennCounts[i]}</text>
          <text x={labelPos[i][0]} y={labelPos[i][1] + 6.5} textAnchor="middle" fontSize={5.5} fill="#111">{pct(vennCounts[i])}</text>
        </g>
      ))}
      {vennSets.map((s, i) => (
        <text key={s} x={titlePos[i][0]} y={titlePos[i][1]} textAnchor="middle" fontSize={9} fontWeight="bold" fill={vennTitleColor[i]}>{s}</text>
      ))}
    </g>
  );
}

export default function App() {
  return (
    <div style={{ position: 'absolute', left: 0, top: 0, width: W, height: H, background: '#fff' }}>
      <svg width={W} height={H} viewBox={`0 0 ${W} ${H}`} style={{ display: 'block' }}>
        <rect width={W} height={H} fill="#fff" />
        <PanelLabel x={22.5} y={19.5} letter="a" />
        <PanelLabel x={397} y={21} letter="b" />
        <PanelLabel x={744} y={22.5} letter="c" />
        <PanelLabel x={8} y={350} letter="d" />
        <PanelLabel x={307} y={351} letter="e" />
        <PanelLabel x={583} y={351} letter="f" />
        <PanelLabel x={848} y={352} letter="g" />
        <PanelA />
        <PanelB />
        <PanelC />
        <Volcano
          xDomain={[-9.03, 9.03]} xRange={[28.3, 291.7]}
          yDomain={[-0.3, 5.31]} yRange={[573.3, 366.7]}
          xTicks={[-8, -6, -4, -2, 0, 2, 4, 6, 8]}
          up={upD} down={downD} normal={normalD}
          upN={upCounts[0]} downN={downCounts[0]}
          legend={{ x: 239.3, y: 369.3, w: 50, h: 31.4, fs: 5.9 }}
          xLabel={[160, 589]} yLabel={[19, 470]}
        />
        <Volcano
          xDomain={[-12.03, 11.94]} xRange={[325, 566.7]}
          yDomain={[-0.32, 5.81]} yRange={[576.7, 369.3]}
          xTicks={[-10, -5, 0, 5, 10]}
          up={upE} down={downE} normal={normalE}
          upN={upCounts[1]} downN={downCounts[1]}
          legend={{ x: 518.3, y: 371.7, w: 46, h: 31, fs: 5.5 }}
          xLabel={[446.7, 591]} yLabel={[316.5, 446.7]}
        />
        <Volcano
          xDomain={[-12, 12]} xRange={[602.3, 841]}
          yDomain={[-0.29, 5.5]} yRange={[578.3, 367.3]}
          xTicks={[-10, -5, 0, 5, 10]}
          up={upF} down={downF} normal={normalF}
          upN={upCounts[2]} downN={downCounts[2]}
          legend={{ x: 792.7, y: 369.3, w: 38.3, h: 31.4, fs: 4.8 }}
          xLabel={[721.7, 593]} yLabel={[594, 455.7]}
        />
        <PanelG />
      </svg>
    </div>
  );
}
